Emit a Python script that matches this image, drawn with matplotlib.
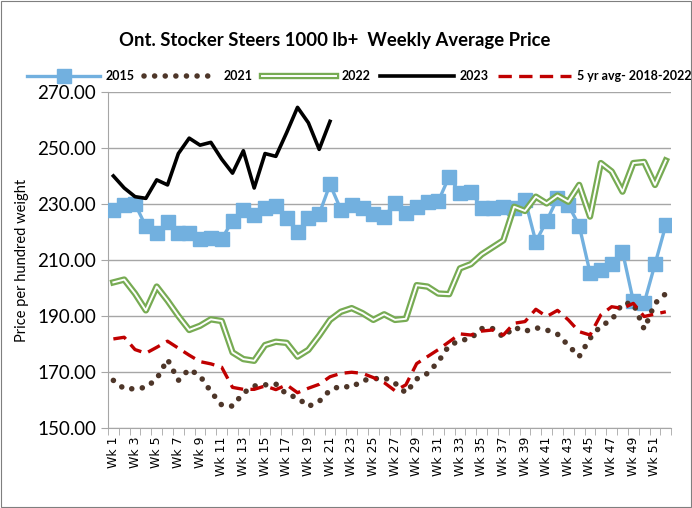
import matplotlib
matplotlib.use("Agg")
import matplotlib.pyplot as plt
import matplotlib.patheffects as pe
from matplotlib.patches import Rectangle

plt.rcParams['font.family'] = ['Lato', 'DejaVu Sans']

weeks = list(range(1, 53))
week_labels = ["Wk %d" % w for w in range(1, 53, 2)]

y2015 = [228, 229.6, 230, 222, 219.5, 223.5, 219.8, 219.8, 217.5, 217.8, 217.5, 224, 228,
         226, 228.5, 229.3, 225, 220, 225, 226.4, 237, 228, 229.6, 228.6, 226.3, 225.2,
         230.5, 226.8, 229, 230.8, 231, 239.8, 233.8, 234.4, 228.6, 228.6, 229, 228.5,
         231.5, 216.5, 224, 232, 229.6, 222.3, 205.5, 206.4, 208.5, 213, 195.3, 194.6,
         208.5, 222.5]
y2021 = [167, 164, 164, 164.5, 167.5, 174.5, 167, 171, 168.6, 163, 158.2, 157.8, 162.5,
         165, 165.4, 165.7, 162, 160.8, 157.7, 159.5, 163.5, 165, 164.5, 167, 167.5, 168,
         166, 162.5, 167.5, 169.5, 173.7, 179.5, 181.2, 182, 185.5, 185.5, 182.5, 186,
         184.5, 185.8, 185, 183.5, 179.5, 175.5, 182, 186.5, 188.5, 194.5, 194.5, 185.3,
         194.5, 198]
y2022 = [202, 203, 198, 192, 200.5, 195.5, 190, 185, 186.5, 188.8, 188.2, 177, 174.6,
         174, 179.6, 180.8, 180.4, 175.5, 177.9, 183, 188.6, 191.5, 192.8, 191, 188.6,
         190.6, 188.6, 189, 201, 200.5, 198, 197.8, 207, 208.5, 212, 214.5, 217, 229,
         227.5, 232.6, 230.2, 233, 230.8, 236.8, 225.5, 244.6, 241.6, 234.4, 244.6, 245,
         236.8, 245.5]
y2023 = [240, 235.7, 232.6, 232, 238.6, 236.8, 248, 253.5, 251, 252, 246, 241, 249,
         235.7, 248, 247, 255.5, 264.5, 259, 249.5, 259.5]
avg5 = [181.8, 182.4, 178, 176.7, 178.8, 181, 178.5, 176, 173.7, 172.9, 171.7, 164.5,
        163.8, 163.8, 165, 163.7, 165.4, 162.6, 164.2, 165.6, 168.3, 169.5, 169.9, 169.5,
        168, 166.2, 163.3, 165.4, 173, 175.5, 178, 180.8, 183.6, 183.2, 184.6, 185, 183.2,
        187.4, 188, 192.4, 189.8, 192, 188.6, 184.4, 183.2, 190.4, 193.3, 192.7, 194.5,
        189.8, 190.7, 191.5]

fig = plt.figure(figsize=(6.92, 5.08), dpi=100)
ax = fig.add_axes([0.156, 0.1575, 0.814, 0.6615])

ax.plot(weeks, y2015, color='#72b0df', lw=2.4, marker='s', markersize=9.5, label='2015', zorder=3)
ax.plot(weeks, y2021, color='#4e3629', lw=4, linestyle=(0, (0.01, 1.9)),
        dash_capstyle='round', label='2021', zorder=3)
ax.plot(weeks, y2022, color='white', lw=1.4, label='2022', zorder=3,
        path_effects=[pe.Stroke(linewidth=4.6, foreground='#77ab53'), pe.Normal()])
ax.plot(weeks[:len(y2023)], y2023, color='black', lw=2.6, label='2023', zorder=4)
ax.plot(weeks, avg5, color='#c00000', lw=2.4, linestyle=(0, (4, 2.2)),
        label='5 yr avg- 2018-2022', zorder=3)

ax.set_xlim(0.5, 52.5)
ax.set_ylim(150, 270)
ax.set_yticks(range(150, 271, 20))
ax.set_yticklabels(["%.2f" % v for v in range(150, 271, 20)], fontsize=13.5)
ax.yaxis.grid(True, color='#a6a6a6', lw=1)
ax.set_axisbelow(True)

ax.set_xticks(range(1, 53, 2))
ax.set_xticklabels(week_labels, rotation=90, fontsize=9, family='DejaVu Sans')
ax.set_xticks([w + 0.5 for w in range(0, 53)], minor=True)
ax.tick_params(axis='x', which='major', length=0, pad=6)
ax.tick_params(axis='x', which='minor', length=5, color='#a6a6a6', direction='out')
ax.tick_params(axis='y', length=5, color='#a6a6a6')

for s in ['top', 'right']:
    ax.spines[s].set_visible(False)
ax.spines['left'].set_color('#a6a6a6')
ax.spines['bottom'].set_color('#a6a6a6')

ax.set_ylabel("Price per hundred weight", fontsize=10.5, labelpad=6)

fig.text(0.484, 0.921, "Ont. Stocker Steers 1000 lb+  Weekly Average Price",
         ha='center', va='center', fontsize=13.3, fontweight='bold')

fig.legend(loc='center', bbox_to_anchor=(0.519, 0.85), ncol=5, frameon=False,
           handlelength=5.9, columnspacing=0.75, handletextpad=0.45,
           borderpad=0.2, prop={'weight': 'bold', 'size': 9})

fig.patches.append(Rectangle((0.002, 0.002), 0.996, 0.996, transform=fig.transFigure,
                             fill=False, edgecolor='#7f7f7f', lw=0.8))

fig.savefig("out.png", dpi=100)
